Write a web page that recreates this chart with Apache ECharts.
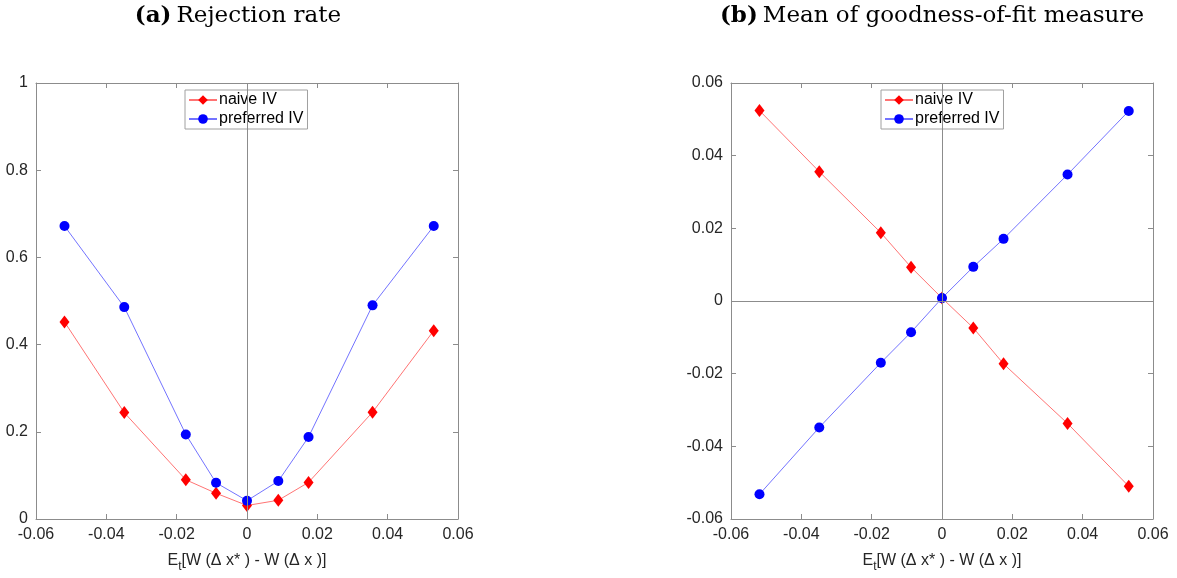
<!DOCTYPE html>
<html>
<head>
<meta charset="utf-8">
<script src="https://cdn.jsdelivr.net/npm/echarts@6/dist/echarts.min.js"></script>
<style>html,body{margin:0;padding:0;background:#fff;}#c{width:1177px;height:578px;}</style>
</head>
<body>
<div id="c"></div>
<script>
// x positions (shared)
const xVals = [-0.0519, -0.0349, -0.0174, -0.0088, 0, 0.0089, 0.0175, 0.0357, 0.0531];
// (a) Rejection rate
const rejNaive = [0.452, 0.244, 0.090, 0.059, 0.031, 0.043, 0.084, 0.245, 0.432];
const rejPreferred = [0.672, 0.486, 0.194, 0.083, 0.042, 0.087, 0.188, 0.490, 0.672];
// (b) Mean of goodness-of-fit measure
const gofNaive = [0.0524, 0.0356, 0.0188, 0.0093, 0.0008, -0.0074, -0.0173, -0.0337, -0.0510];
const gofPreferred = [-0.0532, -0.0348, -0.0170, -0.0086, 0.0008, 0.0094, 0.0171, 0.0348, 0.0523];
const xTicks = [-0.06, -0.04, -0.02, 0, 0.02, 0.04, 0.06];
const seriesNames = ['naive IV', 'preferred IV'];
const titles = [['(a)', 'Rejection rate'], ['(b)', 'Mean of goodness-of-fit measure']];

const pair = (xs, ys) => xs.map((x, i) => [x, ys[i]]);
const axisColor = '#8c8c8c';
const labelColor = '#262626';
const sans = 'Liberation Sans';

function xAxisPair(gi) {
  return [{
    type: 'value', gridIndex: gi, min: xTicks[0], max: xTicks[xTicks.length - 1], interval: 0.02,
    axisLine: { show: true, onZero: false, lineStyle: { color: axisColor } },
    axisTick: { show: true, inside: true, length: 5, lineStyle: { color: axisColor } },
    axisLabel: { color: labelColor, fontFamily: sans, fontSize: 16, margin: 8 },
    splitLine: { show: false },
    name: '{a|E}{s|t}{a|[W (Δ x* ) - W (Δ x )]}',
    nameLocation: 'middle', nameGap: 30,
    nameTextStyle: {
      rich: {
        a: { fontFamily: sans, fontSize: 16, color: labelColor },
        s: { fontFamily: sans, fontSize: 12, color: labelColor, padding: [12, 0, 0, 0] }
      }
    }
  }, {
    type: 'value', gridIndex: gi, position: 'top', min: xTicks[0], max: xTicks[xTicks.length - 1], interval: 0.02,
    axisLine: { show: true, onZero: false, lineStyle: { color: axisColor } },
    axisTick: { show: true, inside: true, length: 5, lineStyle: { color: axisColor } },
    axisLabel: { show: false }, splitLine: { show: false }
  }];
}
function yAxisPair(gi, min, max, interval) {
  return [{
    type: 'value', gridIndex: gi, min: min, max: max, interval: interval,
    axisLine: { show: true, onZero: false, lineStyle: { color: axisColor } },
    axisTick: { show: true, inside: true, length: 5, lineStyle: { color: axisColor } },
    axisLabel: { color: labelColor, fontFamily: sans, fontSize: 16, margin: 8 },
    splitLine: { show: false }
  }, {
    type: 'value', gridIndex: gi, position: 'right', min: min, max: max, interval: interval,
    axisLine: { show: true, onZero: false, lineStyle: { color: axisColor } },
    axisTick: { show: true, inside: true, length: 5, lineStyle: { color: axisColor } },
    axisLabel: { show: false }, splitLine: { show: false }
  }];
}

function mkSeries(name, data, xi, yi, isNaive, markLines) {
  const s = {
    name: name, type: 'line', xAxisIndex: xi, yAxisIndex: yi, data: data,
    symbol: isNaive ? 'diamond' : 'circle',
    symbolSize: isNaive ? [10, 13] : 10,
    showAllSymbol: true,
    itemStyle: { color: isNaive ? '#ff0000' : '#0000ff' },
    lineStyle: { color: isNaive ? 'rgba(255,0,0,0.55)' : 'rgba(0,0,255,0.55)', width: 1 },
    emphasis: { disabled: true },
    animation: false, z: isNaive ? 3 : 4
  };
  if (markLines) {
    s.markLine = {
      silent: true, symbol: ['none', 'none'], label: { show: false },
      lineStyle: { color: axisColor, type: 'solid', width: 1 },
      data: markLines, animation: false
    };
  }
  return s;
}

const chart = echarts.init(document.getElementById('c'));
const option = {
  backgroundColor: '#fff',
  animation: false,
  title: titles.map((t, i) => ({
    text: '{b|' + t[0] + '} {r|' + t[1] + '}',
    left: i === 0 ? 233 : 927, top: 0, textAlign: 'center',
    textStyle: {
      fontWeight: 'normal',
      rich: {
        b: { fontFamily: 'DejaVu Serif', fontWeight: 'bold', fontSize: 23, color: '#000' },
        r: { fontFamily: 'DejaVu Serif', fontWeight: 'normal', fontSize: 23, color: '#000' }
      }
    }
  })),
  legend: [0, 1].map(i => ({
    data: seriesNames,
    orient: 'vertical',
    left: i === 0 ? 185 : 881, top: 90,
    backgroundColor: '#fff',
    borderColor: '#a0a0a0', borderWidth: 1, borderRadius: 0,
    padding: [2, 4, 2, 3],
    itemWidth: 28, itemHeight: 12, itemGap: 3,
    textStyle: { fontFamily: sans, fontSize: 16, color: '#000', padding: [0, 0, 0, -3] },
    selectedMode: false
  })),
  grid: [
    { left: 36, right: 719, top: 83, bottom: 53 },
    { left: 731, right: 24, top: 83, bottom: 53 }
  ],
  xAxis: [...xAxisPair(0), ...xAxisPair(1)],
  yAxis: [...yAxisPair(0, 0, 1, 0.2), ...yAxisPair(1, -0.06, 0.06, 0.02)],
  series: [
    mkSeries(seriesNames[0], pair(xVals, rejNaive), 0, 0, true, [{ xAxis: 0 }]),
    mkSeries(seriesNames[1], pair(xVals, rejPreferred), 0, 0, false, null),
    mkSeries(seriesNames[0], pair(xVals, gofNaive), 2, 2, true, [{ xAxis: 0 }, { yAxis: 0 }]),
    mkSeries(seriesNames[1], pair(xVals, gofPreferred), 2, 2, false, null)
  ]
};
chart.setOption(option);
</script>
</body>
</html>
